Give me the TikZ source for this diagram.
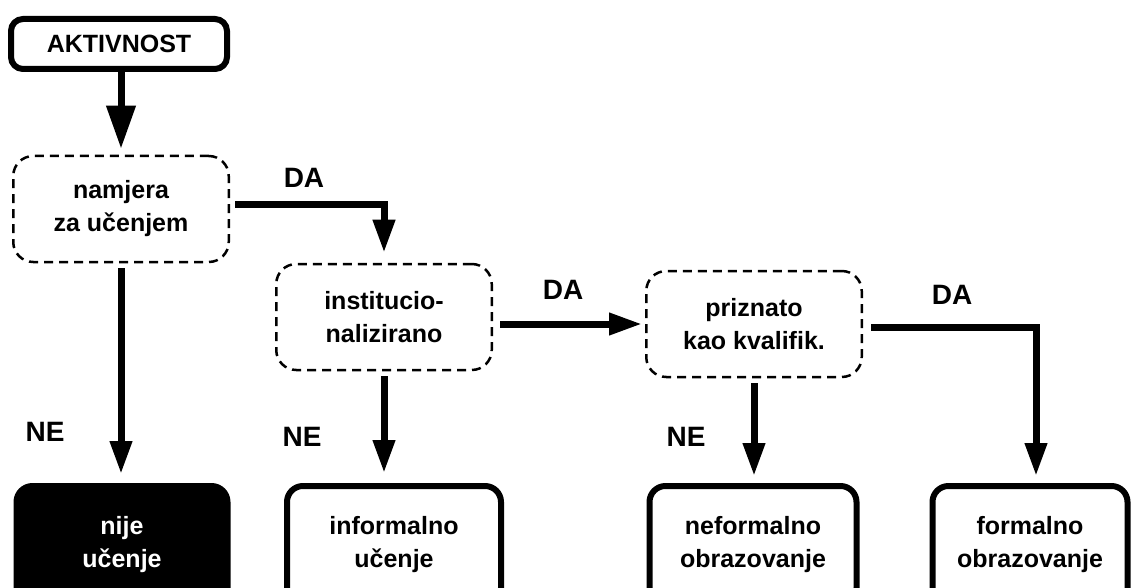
\documentclass[tikz,border=0pt]{standalone}
\usepackage{fontspec}
\setmainfont{Liberation Sans}
\usetikzlibrary{arrows.meta,positioning,calc}

\begin{document}
\begin{tikzpicture}[x=1pt,y=-1pt,>={Triangle[length=33pt,width=21pt]},font=\fontsize{25}{33}\selectfont\bfseries,
box/.style={draw,line width=6pt,rounded corners=16pt,align=center,minimum width=210pt,minimum height=118pt,inner sep=0pt},
ask/.style={draw,line width=2.5pt,dash pattern=on 9pt off 6pt,rounded corners=20pt,align=center,minimum width=215.5pt,minimum height=106pt,inner sep=0pt},
arr/.style={->,line width=7pt},
lbl/.style={font=\fontsize{28}{30}\selectfont\bfseries}]
\useasboundingbox (0,0) rectangle (1132,588);
\node[box,minimum width=216pt,minimum height=50pt,rounded corners=12pt] (akt) at (119,44) {AKTIVNOST};
\node[ask] (nam) at (121,209) {namjera\\za učenjem};
\node[ask] (inst) at (384,317) {institucio-\\nalizirano};
\node[ask] (priz) at (754,324) {priznato\\kao kvalifik.};
\node[box,fill=black,text=white,minimum width=211pt] (nije) at (122,545) {nije\\učenje};
\node[box,minimum width=214pt] (inf) at (394,545) {informalno\\učenje};
\node[box,minimum width=207pt] (nef) at (753,545) {neformalno\\obrazovanje};
\node[box,minimum width=195pt] (form) at (1030,545) {formalno\\obrazovanje};
\node[lbl] (da1) at (304,178) {DA};
\node[lbl] (da2) at (563,290) {DA};
\node[lbl] (da3) at (952,295) {DA};
\node[lbl] (ne1) at (45,432) {NE};
\node[lbl] (ne2) at (302,437) {NE};
\node[lbl] (ne3) at (686,437) {NE};
\draw[arr,>={Triangle[length=43pt,width=28pt]}] (akt.south -| nam.north) -- ([yshift=6pt]nam.north);
\draw[arr] ([xshift=5pt,yshift=4pt]nam.east) -| ([yshift=10pt]inst.north);
\draw[arr] ([xshift=7pt]inst.east |- priz.west) -- ([xshift=-3pt]priz.west);
\draw[arr] ([xshift=8pt,yshift=-3pt]priz.east) -| ([xshift=6pt,yshift=7pt]form.north);
\draw[arr] ([yshift=-5pt]nam.south) -- ([yshift=9pt]nam.south |- nije.north);
\draw[arr] ([yshift=-5pt]inst.south) -- ([yshift=10pt]inst.south |- inf.north);
\draw[arr] ([yshift=-5pt]priz.south) -- ([yshift=7pt]priz.south |- nef.north);
\end{tikzpicture}
\end{document}
